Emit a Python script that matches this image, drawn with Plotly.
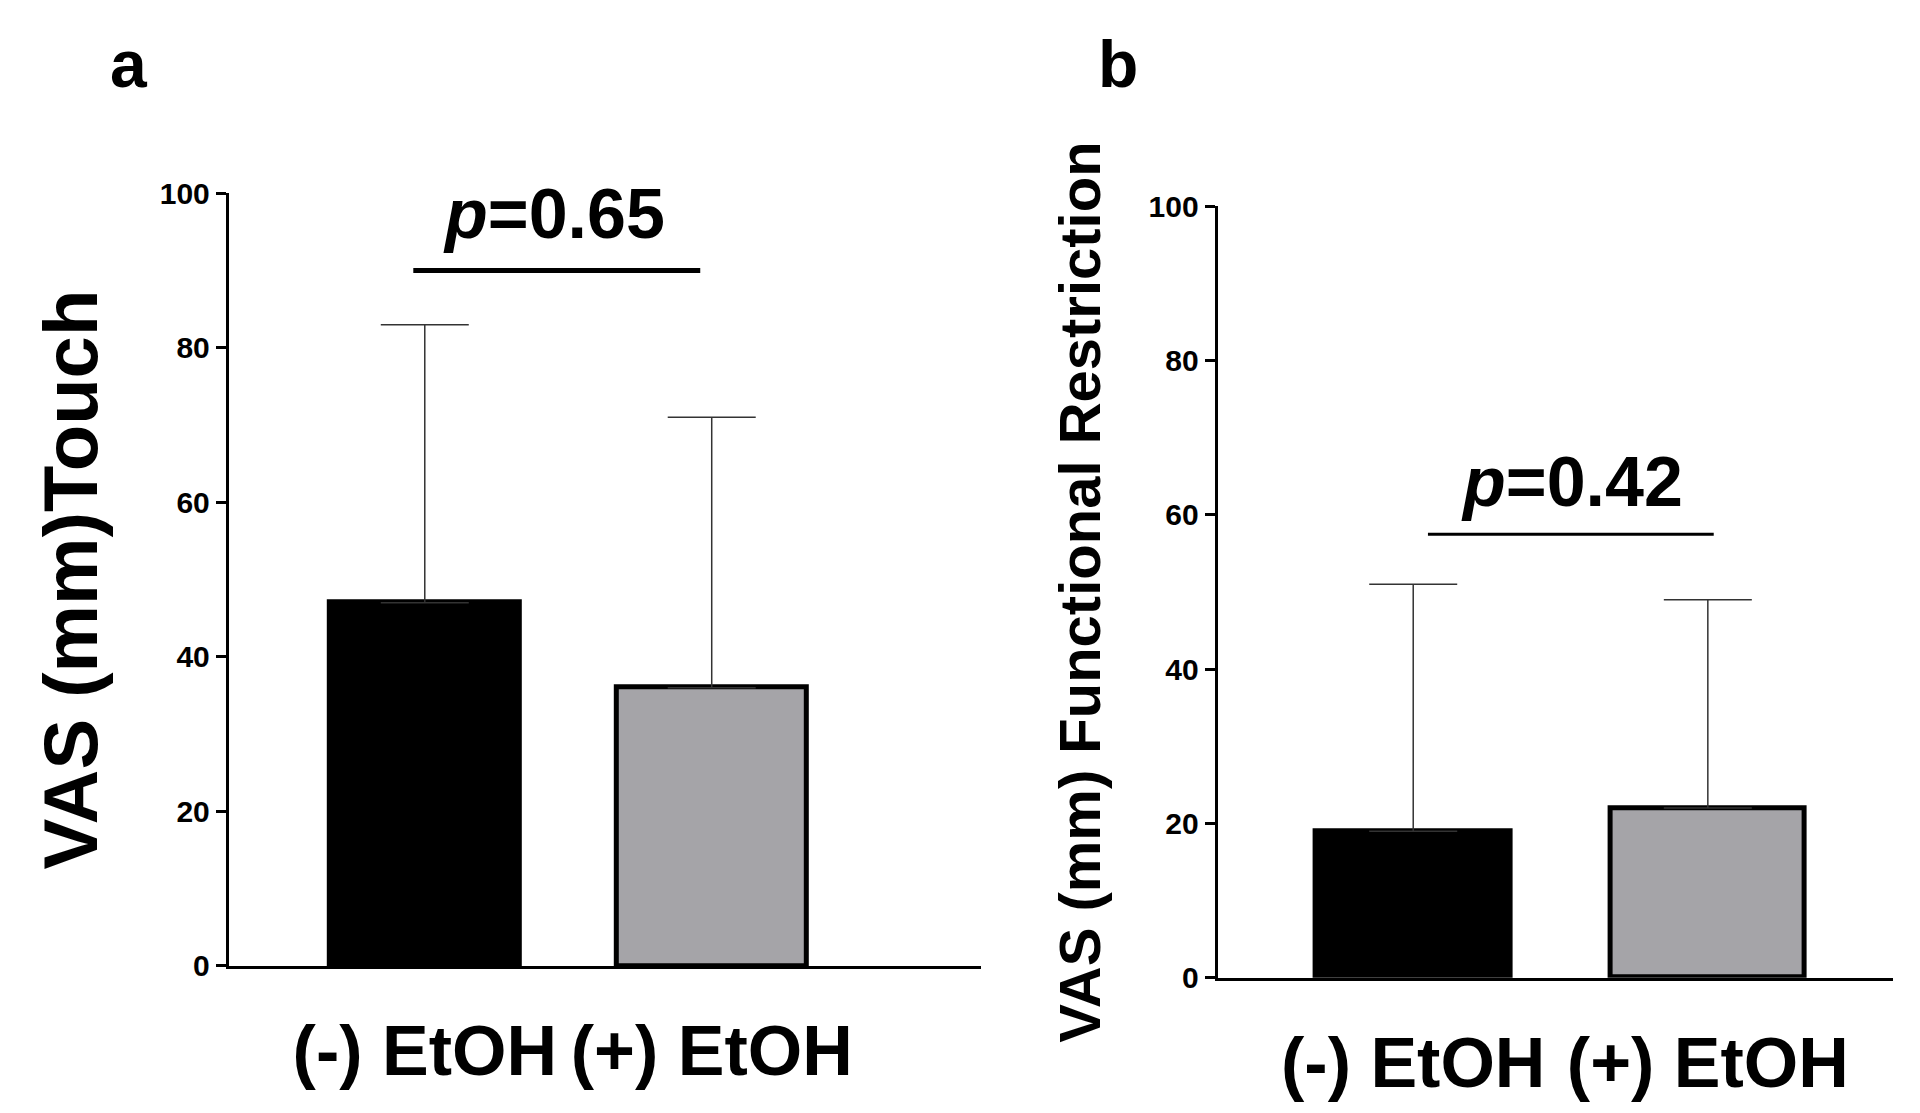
import plotly.graph_objects as go

groups = ["(-) EtOH", "(+) EtOH"]
touch_mean = [47, 36]
touch_sd = [36, 35]
func_mean = [19, 22]
func_sd = [32, 27]
bar_colors = ["#000000", "#a5a4a8"]
yticks = [0, 20, 40, 60, 80, 100]

fig = go.Figure()
fnt = "Liberation Sans, Arial, sans-serif"

fig.add_trace(go.Bar(x=[0, 1], y=touch_mean, width=0.66, marker=dict(color=bar_colors, line=dict(color="black", width=5)),
                     error_y=dict(type="data", symmetric=False, array=touch_sd, arrayminus=[0, 0],
                                  color="#333", thickness=1.5, width=44),
                     xaxis="x", yaxis="y", showlegend=False))
fig.add_trace(go.Bar(x=[0, 1], y=func_mean, width=0.66, marker=dict(color=bar_colors, line=dict(color="black", width=5)),
                     error_y=dict(type="data", symmetric=False, array=func_sd, arrayminus=[0, 0],
                                  color="#333", thickness=1.5, width=44),
                     xaxis="x2", yaxis="y2", showlegend=False))

# significance brackets
fig.add_trace(go.Scatter(x=[-0.04, 0.96], y=[90, 90], mode="lines", line=dict(color="black", width=5),
                         xaxis="x", yaxis="y", showlegend=False))
fig.add_trace(go.Scatter(x=[0.05, 1.02], y=[57.5, 57.5], mode="lines", line=dict(color="black", width=3),
                         xaxis="x2", yaxis="y2", showlegend=False))

ax = dict(showgrid=False, zeroline=False, showline=True, linecolor="black", linewidth=3,
          ticks="outside", ticklen=10, tickwidth=3, tickcolor="black",
          tickfont=dict(family=fnt, size=30, color="black", weight="bold"))
xa = dict(showgrid=False, zeroline=False, showline=True, linecolor="black", linewidth=3, ticks="",
          tickmode="array", tickvals=[0, 1], ticktext=groups, ticklabelstandoff=22,
          tickfont=dict(family=fnt, size=70, color="black", weight="bold"))

fig.update_layout(
    width=1920, height=1113, plot_bgcolor="white", paper_bgcolor="white",
    margin=dict(l=0, r=0, t=0, b=0), bargap=0,
    xaxis=dict(xa, domain=[0.115, 0.507], range=[-0.683, 1.94], anchor="y"),
    yaxis=dict(ax, domain=[0.128, 0.844], range=[0, 100], tickvals=yticks, anchor="x",
               title=dict(text="VAS (mm)Touch", standoff=38,
                          font=dict(family=fnt, size=76, color="black", weight="bold"))),
    xaxis2=dict(xa, domain=[0.630, 0.982], range=[-0.664, 1.63], anchor="y2"),
    yaxis2=dict(ax, domain=[0.117, 0.832], range=[0, 100], tickvals=yticks, anchor="x2",
                title=dict(text="VAS (mm) Functional Restriction", standoff=30,
                           font=dict(family=fnt, size=58, color="black", weight="bold"))),
    annotations=[
        dict(text="a", x=0.063, y=1.0, xref="paper", yref="paper", showarrow=False, xanchor="center", yanchor="top",
             font=dict(family=fnt, size=66, color="black", weight="bold")),
        dict(text="b", x=0.578, y=1.0, xref="paper", yref="paper", showarrow=False, xanchor="center", yanchor="top",
             font=dict(family=fnt, size=66, color="black", weight="bold")),
        dict(text="<i>p</i>=0.65", x=0.45, y=92, xref="x", yref="y", showarrow=False, yanchor="bottom",
             font=dict(family=fnt, size=70, color="black", weight="bold")),
        dict(text="<i>p</i>=0.42", x=0.54, y=59, xref="x2", yref="y2", showarrow=False, yanchor="bottom",
             font=dict(family=fnt, size=70, color="black", weight="bold")),
    ],
)

fig.write_html("out.html")
